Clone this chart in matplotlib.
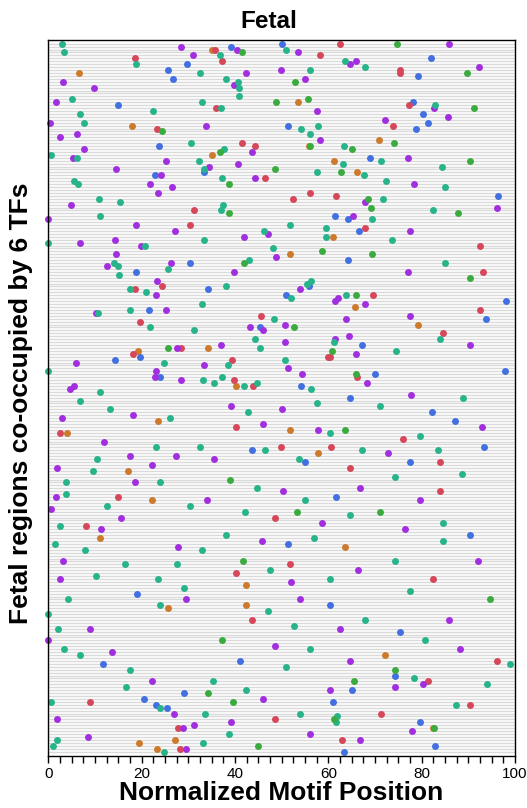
import matplotlib.pyplot as plt
import numpy as np

plt.rcParams['font.family'] = ['Liberation Sans', 'DejaVu Sans']

# one horizontal track per region, counted from the top
n_regions = 243

# motif hits per TF: (region, normalized motif position)
purple = [(1, 28.4), (2, 40.4), (4, 31.0), (13, 3.1), (15, 9.8), (14, 39.8), (20, 1.6),
          (27, 0.4), (28, 33.8), (32, 2.4), (31, 6.1), (36, 7.6), (3, 53.5), (10, 42.4),
          (9, 49.8), (12, 55.0), (23, 57.5), (33, 58.2), (37, 43.6), (0, 85.9), (7, 64.6),
          (6, 65.9), (8, 92.3), (22, 82.7), (26, 72.1), (25, 85.7), (39, 5.2), (40, 25.2),
          (43, 14.6), (45, 24.1), (42, 34.4), (48, 21.7), (49, 26.5), (51, 23.6), (55, 4.9),
          (60, 0.0), (62, 18.8), (64, 27.2), (68, 6.8), (67, 14.2), (69, 19.9), (72, 14.5),
          (76, 12.6), (75, 26.3), (81, 23.4), (86, 23.0), (92, 10.2), (91, 25.3), (104, 27.6),
          (109, 6.0), (110, 33.4), (112, 23.1), (114, 22.8), (115, 28.5), (117, 5.5),
          (118, 4.6), (41, 40.7), (46, 44.3), (54, 67.9), (59, 65.4), (65, 47.1), (66, 42.0),
          (73, 48.7), (78, 39.8), (84, 54.0), (88, 61.4), (87, 62.0), (89, 67.9), (96, 50.8),
          (97, 43.3), (98, 46.1), (94, 63.8), (103, 37.0), (102, 50.8), (101, 61.5),
          (100, 64.4), (106, 65.9), (111, 51.3), (113, 54.4), (116, 68.4), (218, 22.3),
          (229, 27.0), (231, 1.9), (232, 39.2), (234, 28.8), (233, 31.3), (237, 8.4),
          (241, 29.5), (219, 80.4), (220, 74.4), (235, 77.9), (238, 66.7),
          (128, 2.9), (127, 18.1), (141, 27.4), (141, 17.5), (144, 22.2), (145, 1.9),
          (150, 18.6), (155, 1.6), (156, 34.0), (162, 15.6), (159, 0.6), (166, 11.3),
          (172, 27.8), (177, 3.1), (183, 2.5), (190, 29.5), (200, 8.9), (204, 0.0),
          (208, 13.7), (136, 11.9), (124, 39.1), (125, 50.1), (130, 46.0), (132, 57.8),
          (142, 35.5), (153, 50.3), (152, 66.8), (164, 58.7), (170, 45.8), (184, 52.0),
          (180, 66.4), (190, 53.9), (200, 62.5), (206, 48.6), (211, 64.6), (39, 77.1),
          (48, 78.4), (56, 96.1), (64, 77.5), (78, 77.1), (93, 77.5), (103, 90.4),
          (120, 77.7), (131, 92.9), (140, 72.8), (156, 79.6), (166, 76.5), (177, 92.1),
          (197, 85.9), (207, 88.2), (224, 46.0), (236, 56.1), (221, 60.4)]

teal = [(0, 2.9), (3, 3.4), (4, 36.8), (7, 18.8), (10, 32.5), (12, 38.1), (15, 40.9),
        (13, 40.7), (19, 5.1), (20, 32.9), (22, 37.0), (24, 6.8), (23, 22.4), (27, 7.6),
        (34, 30.6), (36, 37.6), (2, 50.9), (9, 56.0), (18, 40.8), (29, 54.2), (28, 57.7),
        (31, 56.1), (6, 63.6), (8, 67.8), (21, 82.9), (35, 63.4), (38, 0.6), (39, 6.1),
        (40, 32.3), (43, 33.4), (47, 5.6), (48, 6.3), (53, 10.9), (54, 15.4), (59, 11.1),
        (68, 0.0), (69, 20.8), (67, 33.4), (75, 14.1), (76, 15.0), (79, 15.1), (77, 25.7),
        (84, 17.6), (85, 20.9), (89, 33.0), (92, 10.6), (91, 17.5), (97, 21.8), (98, 31.3),
        (109, 24.9), (112, 0.0), (115, 33.1), (116, 35.5), (46, 37.2), (44, 57.6),
        (41, 63.2), (45, 67.7), (55, 37.5), (57, 37.0), (60, 69.4), (62, 51.8), (64, 46.2),
        (63, 59.5), (66, 59.5), (70, 48.1), (74, 43.0), (81, 56.4), (82, 55.4), (83, 38.1),
        (87, 52.1), (86, 63.8), (94, 48.3), (101, 44.4), (104, 45.3), (102, 61.3),
        (110, 38.6), (108, 50.8), (114, 37.3), (117, 42.0), (116, 44.8), (118, 56.4),
        (218, 35.4), (220, 16.6), (225, 0.5), (227, 23.9), (229, 33.5), (236, 38.8),
        (238, 1.8), (240, 0.9), (239, 33.1), (242, 24.9), (217, 78.4), (219, 94.1),
        (226, 87.4), (230, 61.9), (232, 61.6),
        (119, 11.1), (122, 6.8), (125, 13.2), (128, 26.1), (138, 23.1), (138, 32.5),
        (142, 10.4), (146, 9.6), (150, 3.8), (150, 23.9), (154, 3.8), (158, 30.4),
        (158, 12.6), (165, 2.5), (171, 1.4), (173, 7.9), (173, 32.9), (178, 16.4),
        (178, 27.6), (182, 10.2), (183, 23.5), (186, 29.1), (190, 4.2), (192, 23.9),
        (195, 0.0), (200, 2.1), (207, 3.4), (209, 6.8), (214, 17.5), (126, 42.8),
        (123, 57.6), (133, 60.4), (139, 46.4), (142, 53.7), (139, 67.2), (152, 44.7),
        (156, 55.0), (160, 42.1), (161, 64.6), (168, 38.1), (169, 56.9), (180, 47.5),
        (183, 60.4), (194, 47.1), (199, 52.6), (197, 67.9), (207, 56.1), (213, 50.9),
        (40, 71.3), (42, 84.4), (47, 72.4), (49, 85.0), (53, 71.7), (57, 82.4), (67, 73.6),
        (75, 85.0), (101, 83.9), (105, 74.5), (121, 88.9), (124, 71.1), (134, 79.6),
        (139, 83.5), (148, 74.3), (147, 88.6), (164, 84.6), (170, 84.6), (177, 74.3),
        (187, 77.5), (204, 80.7), (212, 99.0), (221, 42.4), (229, 53.9)]

blue = [(1, 39.1), (7, 29.7), (9, 25.6), (12, 26.7), (21, 14.9), (35, 23.8), (0, 50.1),
        (28, 51.3), (5, 82.0), (11, 79.2), (20, 78.2), (24, 80.4), (27, 81.4), (29, 78.9),
        (45, 22.9), (44, 33.4), (78, 18.8), (75, 30.4), (84, 34.2), (91, 21.6), (107, 19.7),
        (108, 14.3), (114, 23.9), (39, 69.0), (59, 61.4), (60, 64.3), (64, 66.5), (74, 64.2),
        (83, 55.9), (86, 50.9), (97, 45.4), (103, 67.2), (113, 70.0), (117, 54.2),
        (222, 29.1), (224, 20.6), (226, 23.1), (227, 25.4), (221, 65.1), (225, 61.1),
        (232, 79.6), (240, 82.8), (242, 63.3), (216, 74.3), (88, 98.0), (94, 93.9),
        (188, 19.0), (212, 11.7), (121, 64.6), (139, 43.6), (143, 55.0), (155, 61.6),
        (171, 51.4), (192, 60.4), (211, 41.1), (52, 96.4), (112, 97.9), (126, 82.2),
        (129, 87.1), (143, 77.5), (138, 93.4), (168, 90.4), (201, 75.4)]

red = [(2, 35.7), (6, 37.2), (5, 18.6), (22, 35.9), (29, 23.4), (4, 58.2), (34, 41.6),
       (35, 44.4), (0, 62.5), (9, 75.4), (10, 75.4), (21, 77.4), (28, 73.8), (57, 31.3),
       (62, 30.3), (83, 24.4), (84, 18.6), (95, 19.6), (104, 28.4), (106, 18.1), (46, 46.4),
       (51, 56.1), (53, 52.4), (52, 61.6), (63, 67.9), (86, 69.6), (93, 45.6), (107, 59.9),
       (107, 60.4), (108, 39.4), (115, 39.8), (114, 66.2), (117, 43.8), (225, 8.9),
       (234, 27.8), (241, 28.2), (218, 81.4), (226, 90.3), (229, 71.3), (238, 62.9),
       (91, 92.5), (99, 84.7),
       (133, 2.5), (155, 14.9), (165, 8.1), (131, 40.2), (138, 49.9), (138, 60.6),
       (145, 64.6), (162, 48.6), (178, 51.8), (181, 40.2), (197, 43.7), (69, 92.5),
       (78, 93.1), (135, 76.0), (143, 83.9), (153, 83.9), (183, 82.4), (211, 96.1),
       (231, 48.6)]

orange = [(2, 35.0), (10, 6.6), (28, 17.9), (20, 53.6), (35, 55.9), (33, 70.9), (38, 35.0),
          (104, 34.2), (105, 19.2), (40, 61.2), (44, 66.1), (66, 61.1), (72, 51.9),
          (90, 65.7), (117, 40.2), (239, 19.4), (238, 27.1), (241, 23.4), (234, 82.4),
          (129, 23.5), (133, 4.0), (146, 17.1), (156, 22.2), (169, 11.1), (193, 25.6),
          (132, 51.8), (140, 57.8), (172, 63.6), (185, 42.4), (192, 42.4), (96, 79.2),
          (209, 72.1)]

green = [(3, 41.5), (30, 24.4), (13, 52.8), (20, 48.9), (19, 55.6), (35, 56.1), (0, 74.7),
         (10, 89.7), (22, 91.2), (34, 74.0), (36, 65.0), (104, 25.6), (37, 36.7), (43, 48.6),
         (48, 38.8), (44, 62.7), (58, 38.8), (53, 68.5), (56, 69.1), (71, 58.6), (72, 69.4),
         (75, 42.0), (86, 66.0), (97, 52.7), (105, 60.8), (113, 66.0), (222, 34.2),
         (225, 39.6), (218, 65.6), (231, 61.2), (234, 82.6),
         (132, 63.6), (149, 38.9), (160, 53.3), (177, 41.8), (204, 37.2), (40, 90.4),
         (58, 87.9), (80, 90.4), (160, 71.1), (190, 94.6), (214, 74.3), (240, 44.9)]

series = [(orange, '#cd7a2c'), (blue, '#4270e0'), (red, '#d6475a'),
          (purple, '#a22fdf'), (teal, '#27b48b'), (green, '#3aab3f')]

fig = plt.figure(figsize=(5.27, 8.08), dpi=100)
ax = fig.add_axes([0.0917, 0.0644, 0.8853, 0.8861])

# gray track for every region
ax.hlines(np.arange(n_regions), 0, 100, color='#dadada', lw=1.0, zorder=0)

for hits, col in series:
    rows = [h[0] for h in hits]
    pos = [h[1] for h in hits]
    ax.scatter(pos, rows, s=25, c=col, linewidths=0, zorder=2, clip_on=False)

ax.set_xlim(0, 100)
ax.set_ylim(n_regions + 0.5, -1.27)
ax.set_xticks(np.arange(0, 101, 20))
ax.set_xticks(np.arange(0, 101, 2.5), minor=True)
ax.set_yticks([])
ax.tick_params(axis='x', which='both', length=5, width=1, labelsize=11, pad=3)
for sp in ax.spines.values():
    sp.set_linewidth(1.0)

fig.text(269 / 527, 1 - 28 / 808, 'Fetal', fontsize=17.5, fontweight='bold',
         ha='center', va='baseline')
ax.set_xlabel('Normalized Motif Position', fontsize=19, fontweight='bold', labelpad=0)
ax.set_ylabel('Fetal regions co-occupied by 6 TFs', fontsize=19, fontweight='bold')
ax.yaxis.set_label_coords(-0.033, 0.493)

fig.savefig('out.png', dpi=100)
